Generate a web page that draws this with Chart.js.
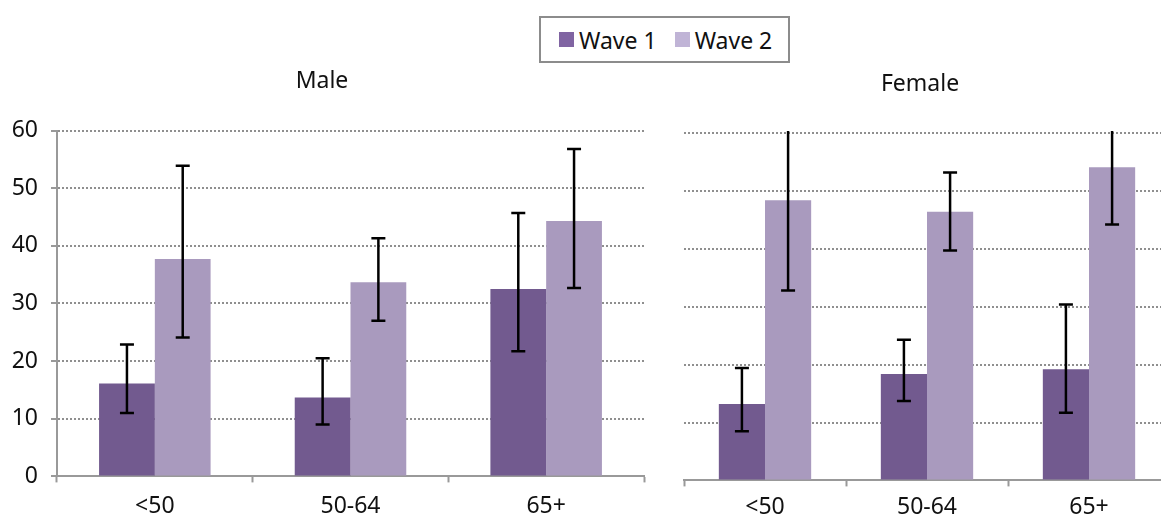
<!DOCTYPE html>
<html lang="en">
<head>
    <meta charset="UTF-8">
    <title>Wave 1 / Wave 2 by age group</title>
    <style>
        body {
            margin: 0;
            width: 1161px;
            height: 516px;
            overflow: hidden;
            background: #fff;
            position: relative;
            font-family: 'Noto Sans', sans-serif;
        }
        .legend {
            position: absolute;
            left: 539px;
            top: 16px;
            width: 229px;
            height: 43px;
            border: 2px solid #8c8c8c;
            display: flex;
            align-items: center;
            padding-left: 18px;
            box-sizing: content-box;
            font-size: 23px;
            color: #111;
            white-space: nowrap;
        }
        .legend .item {
            display: flex;
            align-items: center;
            margin-right: 18px;
        }
        .legend .swatch {
            width: 15px;
            height: 15px;
            margin-right: 5px;
        }
        #maleChart { position: absolute; left: 0; top: 60px; }
        #femaleChart { position: absolute; left: 670px; top: 60px; }
    </style>
    <script src="https://cdn.jsdelivr.net/npm/chart.js"></script>
</head>
<body>
    <div class="legend">
        <div class="item"><span class="swatch" style="background:#8064a2"></span>Wave 1</div>
        <div class="item"><span class="swatch" style="background:#c0b4d6"></span>Wave 2</div>
    </div>
    <canvas id="maleChart" width="660" height="472"></canvas>
    <canvas id="femaleChart" width="510" height="468"></canvas>

    <script>
        // categories and tick values
        const ageGroups = ['<50', '50-64', '65+'];
        const yTicks = [0, 10, 20, 30, 40, 50, 60];

        // Male
        const maleWave1 = [16.1, 13.7, 32.5];
        const maleWave1Lo = [11.0, 9.0, 21.7];
        const maleWave1Hi = [22.9, 20.5, 45.7];
        const maleWave2 = [37.7, 33.7, 44.3];
        const maleWave2Lo = [24.1, 27.0, 32.7];
        const maleWave2Hi = [53.9, 41.3, 56.8];

        // Female
        const femaleWave1 = [13.2, 18.4, 19.2];
        const femaleWave1Lo = [8.5, 13.7, 11.7];
        const femaleWave1Hi = [19.4, 24.3, 30.4];
        const femaleWave2 = [48.4, 46.4, 54.1];
        const femaleWave2Lo = [32.8, 39.7, 44.2];
        const femaleWave2Hi = [64.0, 53.2, 64.0];

        const wave1Color = '#725a8f';
        const wave2Color = '#a99abe';
        const fontSize = 23;

        Chart.defaults.font.family = "'Noto Sans', sans-serif";
        Chart.defaults.color = '#111';

        // draws the error whiskers, clipped to the plot area
        const errorBars = {
            id: 'errorBars',
            afterDatasetsDraw(chart) {
                const { ctx, chartArea, scales } = chart;
                const y = scales.y;
                ctx.save();
                ctx.beginPath();
                ctx.rect(chartArea.left, chartArea.top - 2, chartArea.width, chartArea.height + 2);
                ctx.clip();
                ctx.strokeStyle = '#000';
                ctx.lineWidth = 2.5;
                chart.data.datasets.forEach((ds, i) => {
                    const meta = chart.getDatasetMeta(i);
                    meta.data.forEach((bar, j) => {
                        const top = y.getPixelForValue(ds.errHi[j]);
                        const bot = y.getPixelForValue(ds.errLo[j]);
                        const x = bar.x;
                        ctx.beginPath();
                        ctx.moveTo(x, top);
                        ctx.lineTo(x, bot);
                        ctx.moveTo(x - 7, top);
                        ctx.lineTo(x + 7, top);
                        ctx.moveTo(x - 7, bot);
                        ctx.lineTo(x + 7, bot);
                        ctx.stroke();
                    });
                });
                ctx.restore();
            }
        };

        function makeDatasets(w1, w1Lo, w1Hi, w2, w2Lo, w2Hi) {
            return [
                { label: 'Wave 1', data: w1, errLo: w1Lo, errHi: w1Hi, backgroundColor: wave1Color,
                  categoryPercentage: 0.57, barPercentage: 1 },
                { label: 'Wave 2', data: w2, errLo: w2Lo, errHi: w2Hi, backgroundColor: wave2Color,
                  categoryPercentage: 0.57, barPercentage: 1 }
            ];
        }

        // Male chart (with y axis labels)
        new Chart(document.getElementById('maleChart'), {
            type: 'bar',
            data: {
                labels: ageGroups,
                datasets: makeDatasets(maleWave1, maleWave1Lo, maleWave1Hi, maleWave2, maleWave2Lo, maleWave2Hi)
            },
            plugins: [errorBars],
            options: {
                responsive: false,
                animation: false,
                layout: { padding: { left: 0, right: 16, top: 0, bottom: 2 } },
                plugins: {
                    legend: { display: false },
                    tooltip: { enabled: false },
                    title: {
                        display: true,
                        text: 'Male',
                        color: '#111',
                        font: { size: fontSize, weight: 'normal' },
                        padding: { top: 7.5, bottom: 35.5 }
                    }
                },
                scales: {
                    x: {
                        grid: { drawOnChartArea: false, drawTicks: true, tickLength: 6, tickColor: '#999', tickWidth: 2, offset: true },
                        border: { color: '#999', width: 2 },
                        ticks: { padding: 10, font: { size: fontSize }, color: '#111' }
                    },
                    y: {
                        min: 0,
                        max: 60,
                        afterBuildTicks: s => { s.ticks = yTicks.map(v => ({ value: v })); },
                        afterFit: s => { s.width = 57; },
                        grid: { color: '#8f8f8f', lineWidth: 2, tickLength: 6, tickColor: '#999', tickWidth: 2 },
                        border: { color: '#999', width: 2, dash: [2, 2] },
                        ticks: { padding: 13, font: { size: fontSize }, color: '#111' }
                    }
                }
            }
        });

        // Female chart (no y axis labels)
        new Chart(document.getElementById('femaleChart'), {
            type: 'bar',
            data: {
                labels: ageGroups,
                datasets: makeDatasets(femaleWave1, femaleWave1Lo, femaleWave1Hi, femaleWave2, femaleWave2Lo, femaleWave2Hi)
            },
            plugins: [errorBars],
            options: {
                responsive: false,
                animation: false,
                layout: { padding: { left: 0, right: 10, top: 0, bottom: 0 } },
                plugins: {
                    legend: { display: false },
                    tooltip: { enabled: false },
                    title: {
                        display: true,
                        text: 'Female',
                        color: '#111',
                        font: { size: fontSize, weight: 'normal' },
                        padding: { top: 10.5, bottom: 35 }
                    }
                },
                scales: {
                    x: {
                        grid: { drawOnChartArea: false, drawTicks: true, tickLength: 6, tickColor: '#999', tickWidth: 2, offset: true },
                        border: { color: '#999', width: 2 },
                        ticks: { padding: 7, font: { size: fontSize }, color: '#111' }
                    },
                    y: {
                        min: 0,
                        max: 60,
                        afterBuildTicks: s => { s.ticks = yTicks.map(v => ({ value: v })); },
                        afterFit: s => { s.width = 14; },
                        grid: { color: '#8f8f8f', lineWidth: 2, drawTicks: false },
                        border: { display: false, dash: [2, 2] },
                        ticks: { display: false }
                    }
                }
            }
        });
    </script>
</body>
</html>
